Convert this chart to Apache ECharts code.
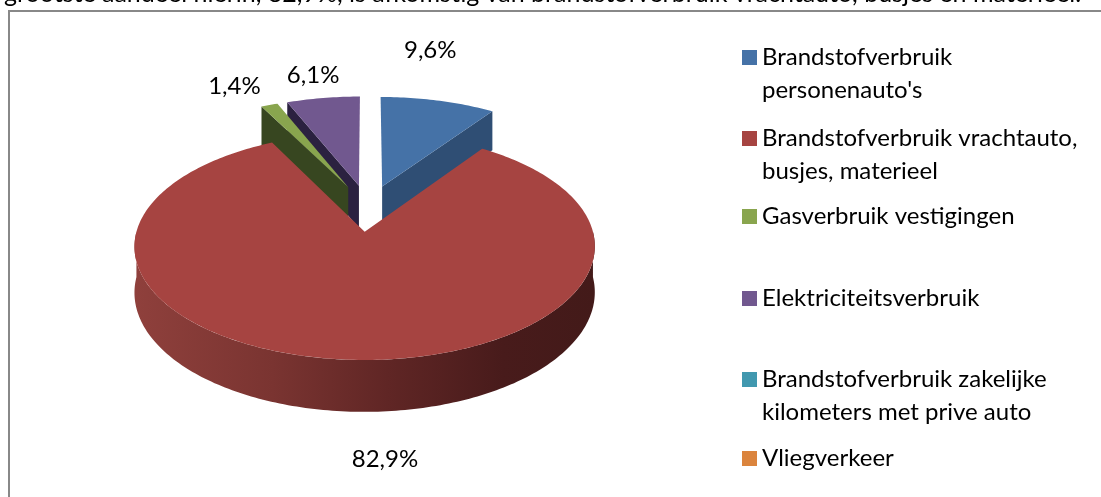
<!DOCTYPE html>
<html>
<head>
<meta charset="utf-8">
<script src="https://cdn.jsdelivr.net/npm/echarts@6/dist/echarts.min.js"></script>
<style>
  html, body { margin: 0; padding: 0; background: #fff; }
  #chart { width: 1101px; height: 497px; }
</style>
</head>
<body>
<div id="chart"></div>
<script>
// data
const categories = [
  'Brandstofverbruik personenauto\'s',
  'Brandstofverbruik vrachtauto, busjes, materieel',
  'Gasverbruik vestigingen',
  'Elektriciteitsverbruik',
  'Brandstofverbruik zakelijke kilometers met prive auto',
  'Vliegverkeer'
];
const shares = [9.6, 82.9, 1.4, 6.1, 0, 0];
const legendLines = [
  ['Brandstofverbruik', 'personenauto\'s'],
  ['Brandstofverbruik vrachtauto,', 'busjes, materieel'],
  ['Gasverbruik vestigingen'],
  ['Elektriciteitsverbruik'],
  ['Brandstofverbruik zakelijke', 'kilometers met prive auto'],
  ['Vliegverkeer']
];
const caption = 'grootste aandeel hierin, 82,9%, is afkomstig van brandstofverbruik vrachtauto, busjes en materieel.';

// styles / layout
const topColors = ['#4572a7', '#a64441', '#89a54e', '#71588f', '#4198af', '#db843d'];
const wallColors = ['#2f4e74', '#6a2a28', '#374620', '#2b2140', '#2a6473', '#8f5527'];
const FONT = 'Lato, "Liberation Sans", sans-serif';
const CX = 368, CY = 208, RX = 222, RY = 105.6, P = 0.125, DEPTH = 44, EXPLODE = 0.22;
const labelNudge = [[-8, -50], [38, 100], [-35, -19], [-10, -23], [0, 0], [0, 0]];
const drawOrder = [1, 4, 3, 2, 0, 0];
const legendTop = [8, 89, 200, 282, 330, 442];

const rad = d => d * Math.PI / 180;
function proj(u, v, down) {
  const k = 1 / (1 + P * v);
  return [CX + RX * u * k, CY - RY * v * k + DEPTH * down * k];
}

function renderSlice(i) {
  return function (params, api) {
    const val = api.value(0);
    const total = shares.reduce((s, x) => s + x, 0);
    if (!val) return { type: 'group', children: [] };
    let start = 0;
    for (let j = 0; j < i; j++) start += shares[j];
    const a = start / total * 360;
    const b = (start + val) / total * 360;
    const mid = (a + b) / 2;
    const ou = EXPLODE * Math.sin(rad(mid));
    const ov = EXPLODE * Math.cos(rad(mid));
    const rim = (deg, down) => proj(ou + Math.sin(rad(deg)), ov + Math.cos(rad(deg)), down);
    const apex = down => proj(ou, ov, down);
    const arc = (from, to, down) => {
      const pts = [];
      const n = Math.max(2, Math.ceil(Math.abs(to - from)));
      for (let s = 0; s <= n; s++) pts.push(rim(from + (to - from) * s / n, down));
      return pts;
    };
    const children = [];
    // outer curved wall, front half only
    const f0 = Math.max(a, 90), f1 = Math.min(b, 270);
    if (f1 > f0) {
      const pts = arc(f0, f1, 0).concat(arc(f0, f1, 1).reverse());
      children.push({
        type: 'polygon', shape: { points: pts },
        style: {
          fill: i === 1 ? new echarts.graphic.LinearGradient(0, 0, 1, 0, [
            { offset: 0, color: '#8f403c' },
            { offset: 0.3, color: '#7a3431' },
            { offset: 0.55, color: '#602625' },
            { offset: 0.8, color: '#481b1b' },
            { offset: 1, color: '#431a19' }
          ]) : wallColors[i]
        }
      });
    }
    // radial walls facing the viewer
    if (Math.sin(rad(a)) < 0) {
      children.push({ type: 'polygon', shape: { points: [apex(0), rim(a, 0), rim(a, 1), apex(1)] }, style: { fill: wallColors[i] } });
    }
    if (Math.sin(rad(b)) > 0) {
      children.push({ type: 'polygon', shape: { points: [apex(0), rim(b, 0), rim(b, 1), apex(1)] }, style: { fill: wallColors[i] } });
    }
    // top face
    children.push({ type: 'polygon', shape: { points: [apex(0)].concat(arc(a, b, 0)) }, style: { fill: topColors[i] } });
    // label
    const lp = rim(mid, 0);
    children.push({
      type: 'text', z2: 10,
      style: {
        text: val.toFixed(1).replace('.', ',') + '%',
        x: lp[0] + labelNudge[i][0], y: lp[1] + labelNudge[i][1],
        align: 'center', verticalAlign: 'middle',
        font: '24px ' + FONT, fill: '#000'
      }
    });
    return { type: 'group', children: children };
  };
}

const chart = echarts.init(document.getElementById('chart'));
chart.setOption({
  animation: false,
  color: topColors,
  title: {
    text: caption, left: -1, top: -24,
    textStyle: { fontFamily: FONT, fontSize: 25, fontWeight: 'normal', color: '#000' }
  },
  graphic: [{
    type: 'rect', shape: { x: 9, y: 11, width: 1200, height: 600 },
    style: { fill: 'none', stroke: '#888888', lineWidth: 2 }, silent: true, z: 0
  }],
  legend: categories.map((name, i) => ({
    data: [name],
    left: 742, top: legendTop[i], padding: 0,
    icon: 'rect', itemWidth: 15, itemHeight: 15,
    selectedMode: false,
    // a blank first line keeps the square level with the first text line
    formatter: () => (legendLines[i].length > 1 ? '\n' : '') + legendLines[i].join('\n'),
    textStyle: { fontFamily: FONT, fontSize: 24, color: '#000', lineHeight: 33 }
  })),
  series: categories.map((name, i) => ({
    type: 'custom', name: name, coordinateSystem: 'none',
    z: drawOrder[i], silent: true,
    data: [shares[i]],
    renderItem: renderSlice(i)
  }))
});
</script>
</body>
</html>
